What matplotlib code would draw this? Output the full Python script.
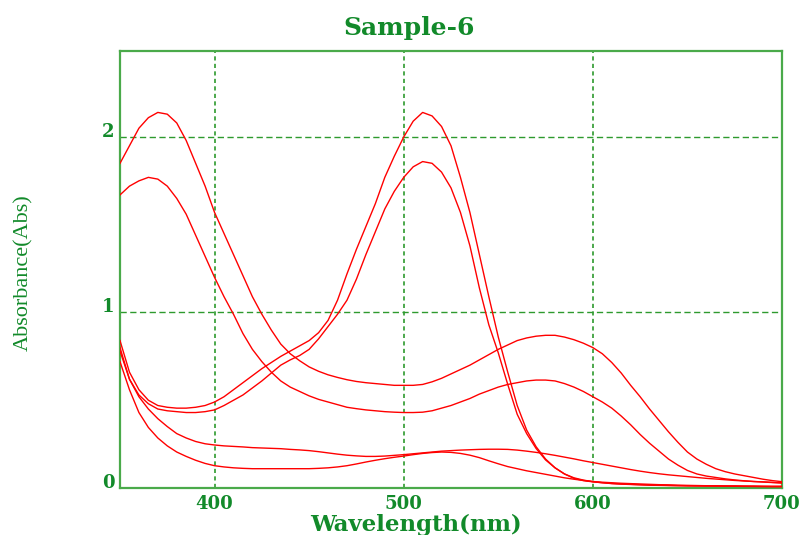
import numpy as np
import matplotlib
matplotlib.use("Agg")
import matplotlib.pyplot as plt

# Wavelength grid (nm), 5 nm steps
wavelength = list(range(350, 701, 5))

scan_1 = [1.85, 1.95, 2.05, 2.11, 2.14, 2.13, 2.08, 1.98, 1.85, 1.72,
          1.57, 1.45, 1.33, 1.21, 1.09, 0.99, 0.90, 0.82, 0.765, 0.725,
          0.69, 0.665, 0.645, 0.63, 0.617, 0.607, 0.60, 0.595, 0.59, 0.585,
          0.585, 0.585, 0.59, 0.605, 0.625, 0.65, 0.675, 0.70, 0.73, 0.76,
          0.79, 0.815, 0.84, 0.855, 0.865, 0.87, 0.87, 0.86, 0.845, 0.825,
          0.80, 0.765, 0.715, 0.655, 0.585, 0.52, 0.45, 0.385, 0.32, 0.26,
          0.205, 0.165, 0.135, 0.11, 0.093, 0.08, 0.07, 0.06, 0.05, 0.042, 0.036]

scan_2 = [1.67, 1.72, 1.75, 1.77, 1.76, 1.72, 1.65, 1.56, 1.44, 1.32,
          1.20, 1.09, 0.99, 0.88, 0.79, 0.72, 0.66, 0.61, 0.575, 0.55,
          0.525, 0.505, 0.49, 0.475, 0.46, 0.452, 0.445, 0.44, 0.435, 0.432,
          0.43, 0.43, 0.432, 0.44, 0.455, 0.47, 0.49, 0.51, 0.535, 0.555,
          0.575, 0.59, 0.60, 0.61, 0.615, 0.615, 0.61, 0.595, 0.575, 0.55,
          0.52, 0.49, 0.455, 0.41, 0.36, 0.305, 0.255, 0.21, 0.165, 0.13,
          0.10, 0.08, 0.068, 0.06, 0.052, 0.046, 0.041, 0.037, 0.034, 0.031, 0.028]

scan_3 = [0.84, 0.66, 0.56, 0.50, 0.47, 0.46, 0.455, 0.455, 0.46, 0.47,
          0.49, 0.52, 0.56, 0.60, 0.64, 0.68, 0.715, 0.75, 0.78, 0.81,
          0.84, 0.885, 0.955, 1.07, 1.22, 1.36, 1.49, 1.62, 1.77, 1.89,
          2.00, 2.09, 2.14, 2.12, 2.06, 1.95, 1.77, 1.57, 1.33, 1.09,
          0.86, 0.66, 0.47, 0.33, 0.235, 0.165, 0.115, 0.08, 0.055, 0.042,
          0.035, 0.03, 0.025, 0.022, 0.02, 0.018, 0.016, 0.015, 0.014, 0.013,
          0.012, 0.012, 0.011, 0.011, 0.01, 0.01, 0.009, 0.009, 0.008, 0.008, 0.008]

scan_4 = [0.80, 0.62, 0.53, 0.48, 0.45, 0.44, 0.435, 0.43, 0.43, 0.435,
          0.445, 0.47, 0.50, 0.53, 0.57, 0.61, 0.655, 0.70, 0.73, 0.755,
          0.79, 0.85, 0.92, 0.99, 1.07, 1.19, 1.33, 1.46, 1.59, 1.69,
          1.77, 1.83, 1.86, 1.85, 1.80, 1.71, 1.57, 1.38, 1.14, 0.93,
          0.77, 0.59, 0.42, 0.31, 0.225, 0.16, 0.115, 0.08, 0.058, 0.045,
          0.036, 0.03, 0.026, 0.023, 0.021, 0.019, 0.017, 0.016, 0.015, 0.014,
          0.013, 0.012, 0.012, 0.011, 0.011, 0.01, 0.01, 0.009, 0.009, 0.008, 0.008]

scan_5 = [0.78, 0.62, 0.52, 0.45, 0.395, 0.35, 0.31, 0.285, 0.265, 0.252,
          0.245, 0.24, 0.237, 0.234, 0.23, 0.228, 0.226, 0.224, 0.22, 0.217,
          0.213, 0.207, 0.20, 0.193, 0.187, 0.183, 0.18, 0.18, 0.182, 0.186,
          0.19, 0.195, 0.20, 0.205, 0.21, 0.213, 0.216, 0.218, 0.22, 0.221,
          0.221, 0.22, 0.216, 0.21, 0.203, 0.195, 0.186, 0.176, 0.166, 0.155,
          0.145, 0.135, 0.125, 0.115, 0.105, 0.096, 0.088, 0.081, 0.075, 0.07,
          0.065, 0.06, 0.055, 0.051, 0.047, 0.043, 0.04, 0.037, 0.035, 0.032, 0.03]

scan_6 = [0.72, 0.56, 0.43, 0.345, 0.285, 0.24, 0.205, 0.18, 0.158, 0.14,
          0.127, 0.12, 0.115, 0.112, 0.11, 0.11, 0.11, 0.11, 0.11, 0.11,
          0.11, 0.112, 0.115, 0.12, 0.127, 0.137, 0.148, 0.158, 0.167, 0.175,
          0.182, 0.19, 0.197, 0.202, 0.205, 0.203, 0.197, 0.187, 0.173, 0.155,
          0.138, 0.122, 0.11, 0.098, 0.088, 0.078, 0.068, 0.058, 0.05, 0.043,
          0.037, 0.033, 0.03, 0.027, 0.025, 0.023, 0.021, 0.019, 0.018, 0.016,
          0.015, 0.014, 0.013, 0.013, 0.012, 0.012, 0.011, 0.011, 0.01, 0.01, 0.01]

scans = [scan_1, scan_2, scan_3, scan_4, scan_5, scan_6]

x_ticks = [400, 500, 600, 700]
y_ticks = [0, 1, 2]

TEXT_GREEN = "#128a2a"
GRID_GREEN = "#2e9a2e"
FRAME_GREEN = "#4aaa4a"

fig = plt.figure(figsize=(8.02, 5.35), dpi=100)
ax = fig.add_axes([120 / 802, 47 / 535, 662 / 802, 437 / 535])

for s in scans:
    ax.plot(wavelength, s, color="#ff0000", lw=1.0, zorder=3)

ax.set_xlim(350, 700)
ax.set_ylim(0, 2.49)
ax.set_xticks(x_ticks)
ax.set_yticks(y_ticks)

# grid lines: short dashes vertically, longer dashes horizontally
for xv in x_ticks[:-1]:
    ax.axvline(xv, color=GRID_GREEN, lw=1.2, ls=(0, (2.5, 2.0)), zorder=1)
for yv in y_ticks[1:]:
    ax.axhline(yv, color=GRID_GREEN, lw=1.0, ls=(0, (4.5, 2.5)), zorder=1)

for sp in ax.spines.values():
    sp.set_color(FRAME_GREEN)
    sp.set_linewidth(1.6)

ax.tick_params(length=0, colors=TEXT_GREEN, labelsize=13)
ax.tick_params(axis="x", pad=5)
ax.tick_params(axis="y", pad=4)
for t in ax.get_xticklabels() + ax.get_yticklabels():
    t.set_fontfamily("DejaVu Serif")
    t.set_fontweight("bold")
for t in ax.get_yticklabels():
    t.set_va("baseline")

fig.text(409 / 802, 1 - 35 / 535, "Sample-6", ha="center", va="baseline",
         fontsize=18, fontweight="bold", family="DejaVu Serif", color=TEXT_GREEN)
fig.text(416 / 802, 4 / 535, "Wavelength(nm)", ha="center", va="baseline",
         fontsize=16.5, fontweight="bold", family="DejaVu Serif", color=TEXT_GREEN)
fig.text(24 / 802, 1 - 273 / 535, "Absorbance(Abs)", ha="center", va="center",
         rotation=90, fontsize=16, family="Liberation Serif", color=TEXT_GREEN)

fig.savefig("out.png", dpi=100)
